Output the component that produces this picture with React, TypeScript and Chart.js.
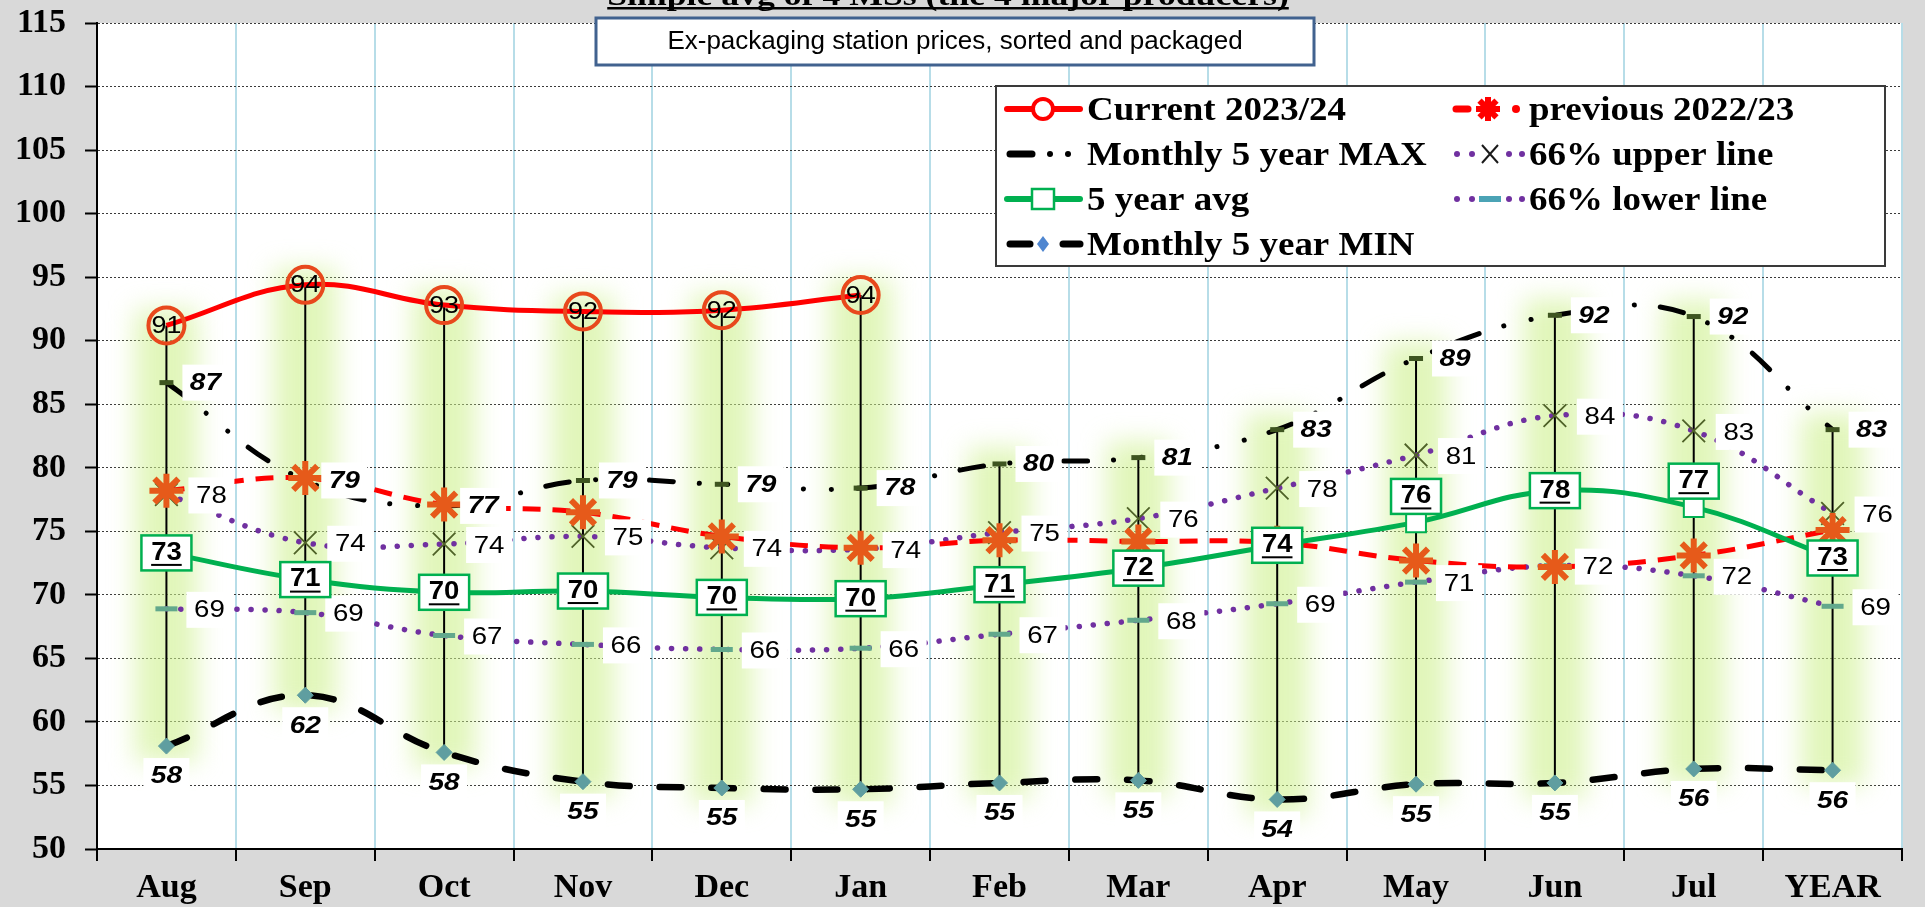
import React, { useEffect, useRef } from 'react';
import { Chart, registerables } from 'chart.js';

Chart.register(...registerables);

// ---------------- data ----------------
const categories = ['Aug', 'Sep', 'Oct', 'Nov', 'Dec', 'Jan', 'Feb', 'Mar', 'Apr', 'May', 'Jun', 'Jul', 'YEAR'];
const current2324 = [91.2, 94.4, 92.8, 92.3, 92.4, 93.6, null, null, null, null, null, null, null];
const previous2223 = [78.2, 79.2, 77.1, 76.5, 74.6, 73.7, 74.3, 74.2, 74.1, 72.7, 72.2, 73.1, 75.1];
const max5y = [86.7, 79.0, 77.0, 79.0, 78.7, 78.4, 80.3, 80.8, 83.0, 88.6, 92.0, 91.9, 83.0];
const upper66 = [77.9, 74.1, 74.0, 74.6, 73.7, 73.6, 74.9, 76.0, 78.4, 81.0, 84.1, 82.9, 76.4];
const avg5y = [73.3, 71.2, 70.2, 70.3, 69.8, 69.7, 70.8, 72.1, 73.9, 75.7, 78.2, 76.9, 72.9];
const lower66 = [68.9, 68.6, 66.8, 66.1, 65.7, 65.8, 66.9, 68.0, 69.3, 71.0, 72.3, 71.5, 69.1];
const min5y = [58.1, 62.1, 57.6, 55.3, 54.8, 54.7, 55.2, 55.4, 53.9, 55.1, 55.2, 56.3, 56.2];

const yMin = 50;
const yMax = 115;
const yStep = 5;

const titleText = 'Simple avg of 4 MSs (the 4 major producers)';
const subtitleText = 'Ex-packaging station prices, sorted and packaged';

const seriesNames = [
  'Current 2023/24',
  '5 year avg',
  'previous 2022/23',
  'Monthly 5 year MAX',
  '66% upper line',
  '66% lower line',
  'Monthly 5 year MIN',
];

// ---------------- look ----------------
const W = 1925;
const H = 907;
const SERIF = '"Liberation Serif", "Times New Roman", serif';
const SANS = '"Liberation Sans", Arial, sans-serif';
const AVG_ABOVE = new Set([9, 11]);

function sText(ctx: any, text: string, x: number, y: number, sx: number, align: any = 'center') {
  ctx.save();
  ctx.translate(x, y);
  ctx.scale(sx, 1);
  ctx.textAlign = align;
  ctx.fillText(text, 0, 0);
  ctx.restore();
}

function dot(ctx: any, x: number, y: number, r: number, color: string) {
  ctx.beginPath();
  ctx.arc(x, y, r, 0, Math.PI * 2);
  ctx.fillStyle = color;
  ctx.fill();
}

function seg(ctx: any, x1: number, x2: number, y: number, w: number, color: string, cap: any = 'butt') {
  ctx.beginPath();
  ctx.moveTo(x1, y);
  ctx.lineTo(x2, y);
  ctx.lineWidth = w;
  ctx.strokeStyle = color;
  ctx.lineCap = cap;
  ctx.stroke();
}

const bgPlugin = {
  id: 'bgPlugin',
  beforeDraw(chart: any) {
    const { ctx, chartArea: a } = chart;
    ctx.save();
    ctx.fillStyle = '#D9D9D9';
    ctx.fillRect(0, 0, chart.width, chart.height);
    ctx.fillStyle = '#FFFFFF';
    ctx.fillRect(a.left, a.top, a.right - a.left, a.bottom - a.top);
    ctx.restore();
  },
};

const rangeSeries = [current2324, previous2223, max5y, upper66, avg5y, lower66, min5y];

const hiLoPlugin = {
  id: 'hiLoPlugin',
  beforeDatasetsDraw(chart: any) {
    const { ctx } = chart;
    const xs = chart.scales.x;
    const ys = chart.scales.y;
    const spans = categories.map((_, i) => {
      const vals = rangeSeries.map((s) => s[i]).filter((v) => v !== null && v !== undefined) as number[];
      return {
        x: xs.getPixelForValue(i),
        top: ys.getPixelForValue(Math.max(...vals)),
        bot: ys.getPixelForValue(Math.min(...vals)),
      };
    });
    ctx.save();
    ctx.filter = 'blur(13px)';
    ctx.fillStyle = 'rgba(205,240,140,0.6)';
    spans.forEach((s) => ctx.fillRect(s.x - 31, s.top - 16, 62, s.bot - s.top + 32));
    ctx.restore();
    ctx.save();
    ctx.strokeStyle = '#000';
    ctx.lineWidth = 2;
    spans.forEach((s) => {
      ctx.beginPath();
      ctx.moveTo(s.x, s.top);
      ctx.lineTo(s.x, s.bot);
      ctx.stroke();
    });
    ctx.restore();
  },
};

const labelPlugin = {
  id: 'labelPlugin',
  afterDatasetsDraw(chart: any) {
    const { ctx } = chart;
    const pts = (k: number) => chart.getDatasetMeta(k).data;
    const box = (cx: number, cy: number, w: number, h: number) => {
      ctx.fillStyle = '#FFFFFF';
      ctx.fillRect(cx - w / 2, cy - h / 2, w, h);
    };
    ctx.save();
    ctx.textBaseline = 'middle';

    // MAX labels (right, bold italic)
    max5y.forEach((v, i) => {
      const p = pts(3)[i];
      const cx = p.x + 39;
      box(cx, p.y, 46, 36);
      ctx.fillStyle = '#000';
      ctx.font = `italic bold 23px ${SANS}`;
      sText(ctx, String(Math.round(v)), cx, p.y + 1, 1.22);
    });
    // upper labels
    upper66.forEach((v, i) => {
      const p = pts(4)[i];
      const cx = p.x + 45;
      box(cx, p.y + 1, 46, 36);
      ctx.fillStyle = '#000';
      ctx.font = `24px ${SANS}`;
      sText(ctx, String(Math.round(v)), cx, p.y + 2, 1.15);
    });
    // lower labels
    lower66.forEach((v, i) => {
      const p = pts(5)[i];
      const cx = p.x + 43;
      box(cx, p.y + 1, 46, 36);
      ctx.fillStyle = '#000';
      ctx.font = `24px ${SANS}`;
      sText(ctx, String(Math.round(v)), cx, p.y + 2, 1.15);
    });
    // MIN labels (below)
    min5y.forEach((v, i) => {
      const p = pts(6)[i];
      const cy = p.y + 30;
      box(p.x, cy, 46, 36);
      ctx.fillStyle = '#000';
      ctx.font = `italic bold 23px ${SANS}`;
      sText(ctx, String(Math.round(v)), p.x, cy + 1, 1.22);
    });
    // avg labels (boxed, bold underlined)
    avg5y.forEach((v, i) => {
      const p = pts(1)[i];
      const cy = p.y + (AVG_ABOVE.has(i) ? -26 : 0);
      ctx.fillStyle = '#FFFFFF';
      ctx.fillRect(p.x - 25, cy - 17.5, 50, 35);
      ctx.strokeStyle = '#00B050';
      ctx.lineWidth = 2.5;
      ctx.strokeRect(p.x - 25, cy - 17.5, 50, 35);
      ctx.fillStyle = '#000';
      ctx.font = `bold 25px ${SANS}`;
      const t = String(Math.round(v));
      sText(ctx, t, p.x, cy, 1.1);
      const w = ctx.measureText(t).width * 1.1;
      ctx.fillRect(p.x - w / 2, cy + 11, w, 2);
    });
    // current labels inside circles
    current2324.forEach((v, i) => {
      if (v === null) return;
      const p = pts(0)[i];
      ctx.fillStyle = '#000';
      ctx.font = `24px ${SANS}`;
      sText(ctx, String(Math.round(v)), p.x, p.y + 1, 1.12);
    });
    ctx.restore();
  },
};

const overlayPlugin = {
  id: 'overlayPlugin',
  afterDraw(chart: any) {
    const { ctx } = chart;
    ctx.save();
    // title (cut off at top)
    ctx.fillStyle = '#000';
    ctx.textBaseline = 'alphabetic';
    ctx.font = `bold 30px ${SERIF}`;
    sText(ctx, titleText, 948, 5, 1.19);
    const tw = ctx.measureText(titleText).width * 1.19;
    ctx.fillRect(948 - tw / 2, 7, tw, 2.5);

    // subtitle box
    ctx.fillStyle = '#FFFFFF';
    ctx.fillRect(596, 18, 718, 47);
    ctx.strokeStyle = '#41628F';
    ctx.lineWidth = 3;
    ctx.strokeRect(596, 18, 718, 47);
    ctx.fillStyle = '#000';
    ctx.textBaseline = 'middle';
    ctx.font = `25px ${SANS}`;
    sText(ctx, subtitleText, 955, 42, 1.04);

    // legend
    const L = 996, T = 86, R = 1885, B = 266;
    ctx.fillStyle = '#FFFFFF';
    ctx.fillRect(L, T, R - L, B - T);
    ctx.strokeStyle = '#3A3A3A';
    ctx.lineWidth = 2;
    ctx.strokeRect(L, T, R - L, B - T);
    const rows = [109, 154, 199, 244];
    const names = chart.data.datasets.map((d: any) => d.label);

    // Current
    let y = rows[0];
    seg(ctx, 1007, 1080, y, 6, '#FF0000', 'round');
    ctx.beginPath();
    ctx.arc(1043, y, 10, 0, Math.PI * 2);
    ctx.fillStyle = '#FFFFFF';
    ctx.fill();
    ctx.lineWidth = 4;
    ctx.strokeStyle = '#FF0000';
    ctx.stroke();
    // MAX
    y = rows[1];
    seg(ctx, 1010, 1032, y, 7, '#000', 'round');
    dot(ctx, 1050, y, 3, '#000');
    dot(ctx, 1068, y, 3, '#000');
    // avg
    y = rows[2];
    seg(ctx, 1007, 1080, y, 6, '#00B050', 'round');
    ctx.fillStyle = '#FFFFFF';
    ctx.fillRect(1032, y - 10, 22, 20);
    ctx.strokeStyle = '#00B050';
    ctx.lineWidth = 2.5;
    ctx.strokeRect(1032, y - 10, 22, 20);
    // MIN
    y = rows[3];
    seg(ctx, 1010, 1030, y, 7, '#000', 'round');
    ctx.beginPath();
    ctx.moveTo(1043, y - 8);
    ctx.lineTo(1049, y);
    ctx.lineTo(1043, y + 8);
    ctx.lineTo(1037, y);
    ctx.closePath();
    ctx.fillStyle = '#4F86D0';
    ctx.fill();
    seg(ctx, 1063, 1080, y, 7, '#000', 'round');
    // previous
    y = rows[0];
    seg(ctx, 1456, 1468, y, 7, '#FF0000', 'round');
    ctx.strokeStyle = '#FF0000';
    ctx.lineWidth = 6;
    ctx.lineCap = 'butt';
    for (let k = 0; k < 4; k++) {
      const a = (k * Math.PI) / 4;
      ctx.beginPath();
      ctx.moveTo(1488 - Math.cos(a) * 12, y - Math.sin(a) * 12);
      ctx.lineTo(1488 + Math.cos(a) * 12, y + Math.sin(a) * 12);
      ctx.stroke();
    }
    dot(ctx, 1516, y, 4, '#FF0000');
    // upper
    y = rows[1];
    dot(ctx, 1457, y, 3, '#7030A0');
    dot(ctx, 1472, y, 3, '#7030A0');
    ctx.strokeStyle = '#1A1A1A';
    ctx.lineWidth = 2;
    ctx.beginPath();
    ctx.moveTo(1482, y - 9); ctx.lineTo(1498, y + 9);
    ctx.moveTo(1498, y - 9); ctx.lineTo(1482, y + 9);
    ctx.stroke();
    dot(ctx, 1509, y, 3, '#7030A0');
    dot(ctx, 1522, y, 3, '#7030A0');
    // lower
    y = rows[2];
    dot(ctx, 1457, y, 3, '#7030A0');
    dot(ctx, 1472, y, 3, '#7030A0');
    seg(ctx, 1479, 1501, y, 6, '#4BA3B5');
    dot(ctx, 1509, y, 3, '#7030A0');
    dot(ctx, 1522, y, 3, '#7030A0');

    ctx.fillStyle = '#000';
    ctx.textBaseline = 'alphabetic';
    ctx.font = `bold 33px ${SERIF}`;
    const col1 = [names[0], names[3], names[1], names[6]];
    const col2 = [names[2], names[4], names[5]];
    col1.forEach((n: string, r: number) => sText(ctx, n, 1087, rows[r] + 11, 1.12, 'left'));
    col2.forEach((n: string, r: number) => sText(ctx, n, 1529, rows[r] + 11, 1.12, 'left'));
    ctx.restore();
  },
};

function makeConfig(): any {
  return {
    type: 'line',
    data: {
      labels: categories,
      datasets: [
        {
          label: seriesNames[0], data: current2324, borderColor: '#FF0000', borderWidth: 5, tension: 0.4,
          pointStyle: 'circle', pointRadius: 18, pointBorderColor: '#E8481C', pointBackgroundColor: 'rgba(0,0,0,0)',
          pointBorderWidth: 4, fill: false, spanGaps: false,
        },
        {
          label: seriesNames[1], data: avg5y, borderColor: '#00B050', borderWidth: 5, tension: 0.4,
          pointStyle: 'rect', pointRadius: 14, pointBorderColor: '#00B050', pointBackgroundColor: '#FFFFFF',
          pointBorderWidth: 2, fill: false,
        },
        {
          label: seriesNames[2], data: previous2223, borderColor: '#FF0000', borderWidth: 5, borderDash: [18, 12],
          tension: 0.4, pointStyle: 'star', pointRadius: 17, pointBorderColor: '#E65A1A',
          pointBackgroundColor: '#E65A1A', pointBorderWidth: 6, fill: false,
        },
        {
          label: seriesNames[3], data: max5y, borderColor: '#000000', borderWidth: 5,
          borderDash: [24, 26, 0.1, 28, 0.1, 26], borderCapStyle: 'round', tension: 0.4,
          pointStyle: 'line', pointRadius: 7, pointBorderColor: '#3E5520', pointBorderWidth: 5, fill: false,
        },
        {
          label: seriesNames[4], data: upper66, borderColor: '#7030A0', borderWidth: 5.5,
          borderDash: [0.1, 14], borderCapStyle: 'round', tension: 0.4,
          pointStyle: 'crossRot', pointRadius: 16, pointBorderColor: '#4F6228', pointBorderWidth: 1.8, fill: false,
        },
        {
          label: seriesNames[5], data: lower66, borderColor: '#7030A0', borderWidth: 5.5,
          borderDash: [0.1, 14], borderCapStyle: 'round', tension: 0.4,
          pointStyle: 'line', pointRadius: 11, pointBorderColor: '#62A88C', pointBorderWidth: 5, fill: false,
        },
        {
          label: seriesNames[6], data: min5y, borderColor: '#000000', borderWidth: 6.5,
          borderDash: [22, 30], borderCapStyle: 'round', tension: 0.4,
          pointStyle: 'rectRot', pointRadius: 8, pointBorderColor: '#5F9EA0', pointBackgroundColor: '#5F9EA0',
          pointBorderWidth: 1, fill: false,
        },
      ],
    },
    options: {
      responsive: false,
      animation: false,
      events: [],
      layout: { padding: { top: 15, right: 7, left: 0, bottom: 0 } },
      plugins: { legend: { display: false }, tooltip: { enabled: false }, title: { display: false } },
      scales: {
        x: {
          type: 'category',
          offset: true,
          grid: {
            offset: true,
            color: (c: any) => (c.index >= categories.length ? 'rgba(0,0,0,0)' : '#B7DDE8'),
            lineWidth: 2,
            tickLength: 12,
            tickColor: (c: any) => (c.index >= categories.length ? 'rgba(0,0,0,0)' : '#000'),
            tickWidth: 2,
          },
          border: { display: true, color: '#000', width: 2 },
          ticks: {
            color: '#000', font: { family: SERIF, size: 34, weight: 'bold' }, padding: 7,
            maxRotation: 0, autoSkip: false,
          },
          afterFit: (s: any) => { s.height = 58; s.paddingLeft = 0; s.paddingRight = 0; },
        },
        y: {
          min: yMin,
          max: yMax,
          ticks: { stepSize: yStep, color: '#000', font: { family: SERIF, size: 34, weight: 'bold' }, padding: 19 },
          grid: { color: '#3A3A3A', lineWidth: 1, tickLength: 12, tickColor: '#000', tickWidth: 2 },
          border: { display: true, color: '#000', width: 2, dash: [2, 2] },
          afterFit: (s: any) => { s.width = 97; s.paddingTop = 0; s.paddingBottom = 0; },
        },
      },
    },
    plugins: [bgPlugin, hiLoPlugin, labelPlugin, overlayPlugin],
  };
}

export default function App() {
  const ref = useRef<HTMLCanvasElement>(null);
  useEffect(() => {
    document.body.style.margin = '0';
    document.body.style.background = '#D9D9D9';
    const chart = new Chart(ref.current as HTMLCanvasElement, makeConfig());
    return () => chart.destroy();
  }, []);
  return (
    <div style={{ width: W, height: H }}>
      <canvas ref={ref} width={W} height={H} style={{ display: 'block', width: W, height: H }} />
    </div>
  );
}
